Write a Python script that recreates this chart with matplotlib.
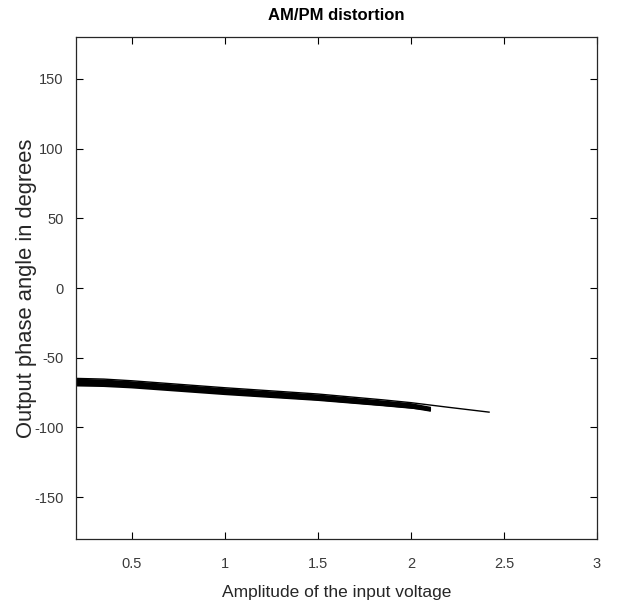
import matplotlib
matplotlib.use("Agg")
import matplotlib.pyplot as plt

plt.rcParams['font.family'] = ['Liberation Sans', 'DejaVu Sans']
plt.rcParams['axes.unicode_minus'] = False

# amplitude samples of the traces
amp_long = [0.2, 0.35, 0.5, 1.0, 1.5, 1.85, 2.0, 2.2, 2.42]
amp_short = [0.2, 0.35, 0.5, 1.0, 1.5, 1.85, 2.0, 2.1]

# output phase (degrees) for the overlapping traces
phase_a = [-64.8, -65.3, -66.5, -71.5, -76.0, -80.2, -82.2, -85.5, -89.0]
phase_b = [-66.0, -66.6, -67.8, -72.8, -77.3, -81.6, -83.5, -86.0]
phase_c = [-67.3, -67.9, -69.0, -74.0, -78.6, -82.8, -84.8, -87.3]
phase_d = [-68.8, -69.2, -70.3, -75.2, -79.6, -83.6, -85.4, -87.6]
phase_e = [-69.6, -70.0, -71.0, -75.8, -80.0, -83.8, -85.6, -86.8]

fig = plt.figure(figsize=(6.17, 6.04), dpi=100)
ax = fig.add_axes([0.123, 0.1076, 0.8446, 0.831])

ax.plot(amp_long, phase_a, color='black', lw=1.0)
for ph in [phase_b, phase_c, phase_d, phase_e]:
    ax.plot(amp_short, ph, color='black', lw=2.0)

ax.set_xlim(0.2, 3)
ax.set_ylim(-180, 180)
ax.set_xticks([0.5, 1, 1.5, 2, 2.5, 3])
ax.set_xticklabels(['0.5', '1', '1.5', '2', '2.5', '3'])
ax.set_yticks([-150, -100, -50, 0, 50, 100, 150])

ax.tick_params(direction='in', top=True, right=True, length=5, width=0.8,
               labelsize=10.5, labelcolor='#3a3a3a')
ax.tick_params(axis='x', pad=13)
ax.tick_params(axis='y', pad=9)
for s in ax.spines.values():
    s.set_color('#262626')
    s.set_linewidth(0.9)

ax.set_title('AM/PM distortion', fontsize=12, fontweight='bold', pad=12)
ax.set_xlabel('Amplitude of the input voltage', fontsize=12.5, color='#262626', labelpad=10)
ax.set_ylabel('Output phase angle in degrees', fontsize=15.8, color='#262626', labelpad=-2)

fig.savefig('out.png', dpi=100)
